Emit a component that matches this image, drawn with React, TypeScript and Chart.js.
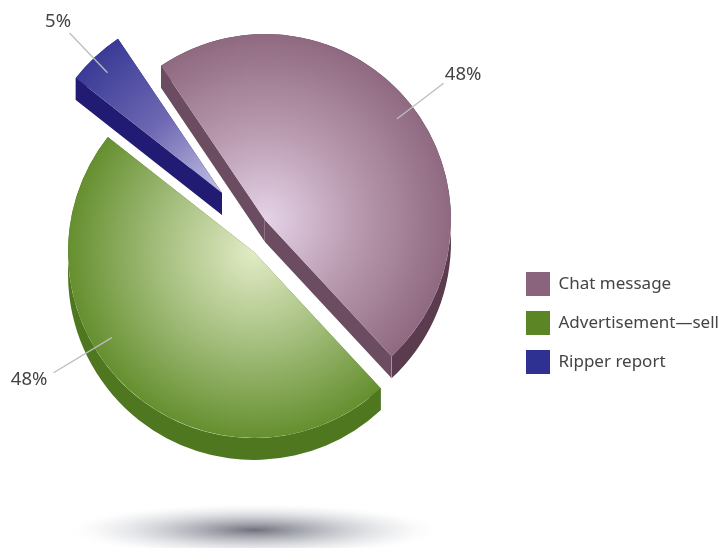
import React, { useEffect, useRef } from "react";
import { Chart, registerables } from "chart.js";

Chart.register(...registerables);

const categories = ["Chat message", "Advertisement—sell", "Ripper report"];
const shares = [48, 48, 5];

const legendColors = ["#8a637c", "#5c8526", "#2e3192"];
const wallColors = ["#6b4c60", "#4f771f", "#211b73"];
const rimColors = ["#5a3c4e", "#4f771f", "#211b73"];
const gradientStops = [
  ["#e5d3e8", "#b899ae", "#8f6980"],
  ["#e2ebc6", "#a5bf7e", "#658f2f"],
  ["#c5c2e4", "#6f69b3", "#3a3b97"],
];

// Exploded displacement of each slice from the pie centre, and its wall height.
const explode = [
  [12, -5],
  [1, 27],
  [-31, -32],
];
const wallDepth = 22;

// Leader lines: turn from the slice's mid angle (degrees), outer length, text nudge.
const leaderTurn = [1, 16.3, -0.7];
const leaderLength = [225, 234, 221];
const leaderInner = 166;
const labelNudge = [
  [19.5, -8],
  [-24.5, 7],
  [-11.5, -11],
];

const sliceCentre = (chart: any, i: number) => {
  const a = chart.chartArea;
  return {
    x: (a.left + a.right) / 2 + explode[i][0],
    y: (a.top + a.bottom) / 2 + explode[i][1],
  };
};

const sliceFill = (ctx: any) => {
  const i = ctx.dataIndex;
  const chart = ctx.chart;
  if (!chart.chartArea) return legendColors[i];
  const { x, y } = sliceCentre(chart, i);
  const g = chart.ctx.createRadialGradient(x, y, 0, x, y, 186);
  g.addColorStop(0, gradientStops[i][0]);
  g.addColorStop(0.5, gradientStops[i][1]);
  g.addColorStop(1, gradientStops[i][2]);
  return g;
};

const explodedPie = {
  id: "explodedPie",
  afterDatasetsUpdate(chart: any) {
    chart.getDatasetMeta(0).data.forEach((arc: any, i: number) => {
      const c = sliceCentre(chart, i);
      arc.x = c.x;
      arc.y = c.y;
    });
  },
  beforeDraw(chart: any) {
    const legend = chart.legend;
    legend.left = 516 - 5;
    legend.right = 720;
    legend.top = 257;
    legend.bottom = 390;
  },
  beforeDatasetsDraw(chart: any) {
    const { ctx } = chart;
    // Floor shadow under the pie.
    ctx.save();
    ctx.translate(254, 530);
    ctx.scale(1, 27 / 190);
    const s = ctx.createRadialGradient(0, 0, 0, 0, 0, 190);
    s.addColorStop(0, "rgba(112,112,124,1)");
    s.addColorStop(0.22, "rgba(150,152,162,0.9)");
    s.addColorStop(0.55, "rgba(200,202,208,0.7)");
    s.addColorStop(0.8, "rgba(232,233,236,0.45)");
    s.addColorStop(1, "rgba(255,255,255,0)");
    ctx.fillStyle = s;
    ctx.fillRect(-190, -190, 380, 380);
    ctx.restore();

    // Extruded walls behind each slice's top face.
    chart.getDatasetMeta(0).data.forEach((arc: any, i: number) => {
      const { x, y, startAngle, endAngle, outerRadius: r } = arc;
      const d = wallDepth;
      ctx.fillStyle = rimColors[i];
      ctx.beginPath();
      ctx.arc(x, y, r, startAngle, endAngle);
      ctx.arc(x, y + d, r, endAngle, startAngle, true);
      ctx.closePath();
      ctx.fill();
      ctx.fillStyle = wallColors[i];
      [startAngle, endAngle].forEach((a: number) => {
        const px = x + r * Math.cos(a);
        const py = y + r * Math.sin(a);
        ctx.beginPath();
        ctx.moveTo(x, y);
        ctx.lineTo(px, py);
        ctx.lineTo(px, py + d);
        ctx.lineTo(x, y + d);
        ctx.closePath();
        ctx.fill();
      });
      // Pale arris where the straight wall meets the curved rim.
      if (i < 2) {
        const px = x + r * Math.cos(endAngle);
        const py = y + r * Math.sin(endAngle);
        ctx.strokeStyle = "rgba(255,255,255,0.22)";
        ctx.lineWidth = 1;
        ctx.beginPath();
        ctx.moveTo(Math.round(px) - 0.5, py);
        ctx.lineTo(Math.round(px) - 0.5, py + d);
        if (i === 0) {
          ctx.moveTo(Math.round(x) - 0.5, y);
          ctx.lineTo(Math.round(x) - 0.5, y + d);
        }
        ctx.stroke();
      }
    });
  },
  afterDatasetsDraw(chart: any) {
    const { ctx } = chart;
    chart.getDatasetMeta(0).data.forEach((arc: any, i: number) => {
      const mid = (arc.startAngle + arc.endAngle) / 2 + (leaderTurn[i] * Math.PI) / 180;
      const ux = Math.cos(mid);
      const uy = Math.sin(mid);
      const ex = arc.x + leaderLength[i] * ux;
      const ey = arc.y + leaderLength[i] * uy;
      ctx.save();
      ctx.strokeStyle = "#bdbdbd";
      ctx.lineWidth = 1.3;
      ctx.beginPath();
      ctx.moveTo(arc.x + leaderInner * ux, arc.y + leaderInner * uy);
      ctx.lineTo(ex, ey);
      ctx.stroke();
      ctx.fillStyle = "#444444";
      ctx.font = '18.5px "Noto Sans"';
      ctx.textAlign = "center";
      ctx.textBaseline = "middle";
      ctx.fillText(`${shares[i]}%`, ex + labelNudge[i][0], ey + labelNudge[i][1]);
      ctx.restore();
    });
  },
};

export default function App() {
  const ref = useRef<HTMLCanvasElement>(null);
  useEffect(() => {
    const chart = new Chart(ref.current as HTMLCanvasElement, {
      type: "pie",
      data: {
        labels: categories,
        datasets: [
          {
            data: shares,
            backgroundColor: sliceFill,
            borderWidth: 0,
            radius: 186,
            hoverOffset: 0,
          },
        ],
      },
      options: {
        responsive: false,
        animation: false,
        events: [],
        rotation: -34,
        layout: { padding: { right: 214, bottom: 98 } },
        plugins: {
          tooltip: { enabled: false },
          legend: {
            position: "chartArea",
            align: "start",
            labels: {
              boxWidth: 24,
              boxHeight: 24,
              padding: 15,
              color: "#444444",
              font: { family: '"Noto Sans"', size: 17 },
              generateLabels: () =>
                categories.map((text, i) => ({
                  text,
                  fillStyle: legendColors[i],
                  strokeStyle: legendColors[i],
                  lineWidth: 0,
                  fontColor: "#444444",
                  index: i,
                })),
            },
          },
        },
      } as any,
      plugins: [explodedPie],
    } as any);
    return () => chart.destroy();
  }, []);
  return (
    <canvas
      ref={ref}
      width={720}
      height={548}
      style={{ position: "absolute", left: 0, top: 0, display: "block" }}
    />
  );
}
